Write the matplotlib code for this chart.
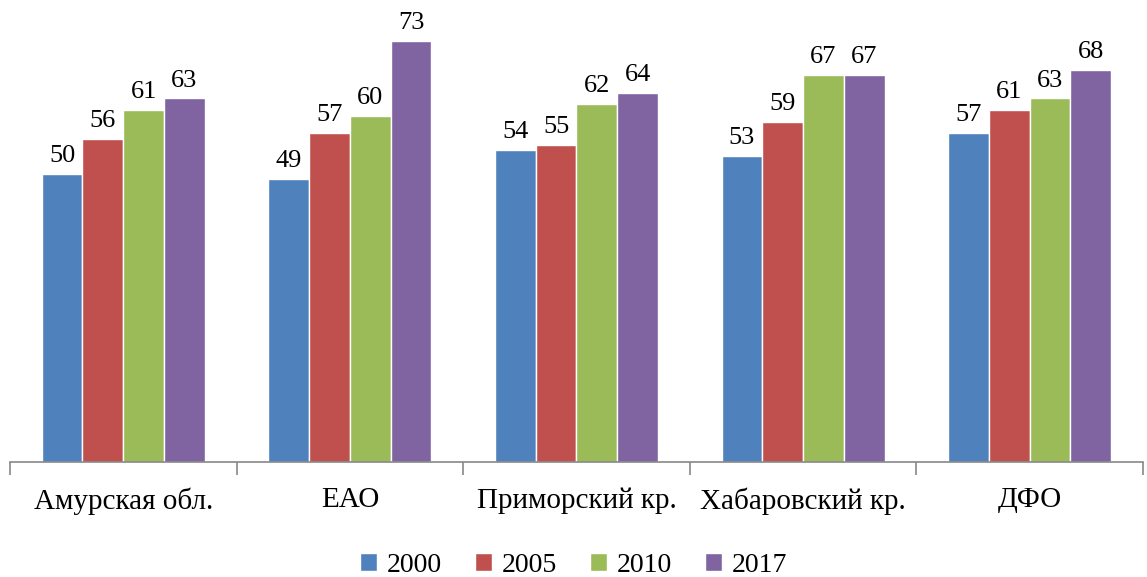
import numpy as np
import matplotlib.pyplot as plt

plt.rcParams['font.family'] = ['Liberation Serif', 'DejaVu Serif']

# данные
regions = ['Амурская обл.', 'ЕАО', 'Приморский кр.', 'Хабаровский кр.', 'ДФО']
years = ['2000', '2005', '2010', '2017']
v2000 = [50, 49, 54, 53, 57]
v2005 = [56, 57, 55, 59, 61]
v2010 = [61, 60, 62, 67, 63]
v2017 = [63, 73, 64, 67, 68]
colors = ['#4F81BD', '#C0504D', '#9BBB59', '#8064A2']

series = [v2000, v2005, v2010, v2017]

fig = plt.figure(figsize=(11.47, 5.77), dpi=100)
ax = fig.add_axes([0.0087, 0.1993, 0.9878, 0.78])

x = np.arange(len(regions))
w = 0.18
for i, (vals, c, yr) in enumerate(zip(series, colors, years)):
    pos = x + (i - 1.5) * w
    bars = ax.bar(pos, vals, width=w, color=c, edgecolor='white', linewidth=1, label=yr)
    for b, v in zip(bars, vals):
        ax.text(b.get_x() + b.get_width() / 2, v + 1.2, str(v),
                ha='center', va='bottom', fontsize=19)

ax.set_xlim(-0.5, len(regions) - 0.5)
ax.set_ylim(0, 78)
ax.set_yticks([])
for s in ['top', 'right', 'left']:
    ax.spines[s].set_visible(False)
ax.spines['bottom'].set_color('#888888')
ax.spines['bottom'].set_linewidth(1.2)

ax.set_xticks(np.arange(-0.5, len(regions)), minor=False)
ax.set_xticklabels([])
ax.tick_params(axis='x', which='major', length=9, color='#888888', width=1.2)
ax.set_xticks(x, minor=True)
ax.set_xticklabels(regions, minor=True, fontsize=21)
ax.tick_params(axis='x', which='minor', length=0, pad=18)

fig.legend(loc='lower center', bbox_to_anchor=(0.5, -0.045), ncol=4, frameon=False,
           fontsize=20, handlelength=0.6, handleheight=0.6, handletextpad=0.35,
           columnspacing=1.2)

fig.savefig('out.png', dpi=100)
